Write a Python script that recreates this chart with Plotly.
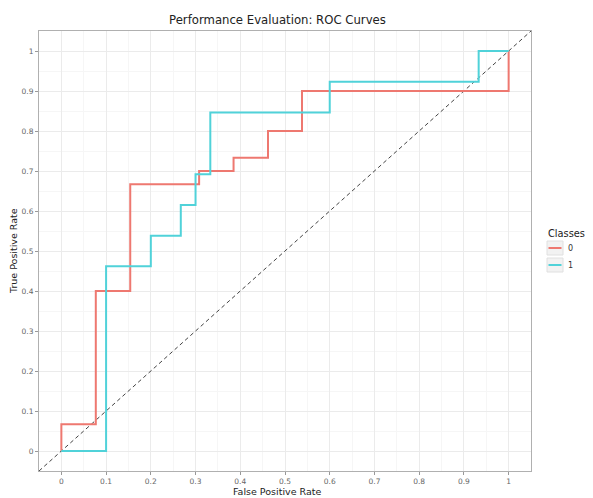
import plotly.graph_objects as go

# ---- data ----
classes = ["0", "1"]
fpr_class0 = [0, 0, 0.077, 0.077, 0.154, 0.154, 0.308, 0.308, 0.385, 0.385,
              0.462, 0.462, 0.538, 0.538, 1, 1]
tpr_class0 = [0, 0.067, 0.067, 0.4, 0.4, 0.667, 0.667, 0.7, 0.7, 0.733,
              0.733, 0.8, 0.8, 0.9, 0.9, 1]
fpr_class1 = [0, 0.1, 0.1, 0.2, 0.2, 0.267, 0.267, 0.3, 0.3, 0.333,
              0.333, 0.6, 0.6, 0.933, 0.933, 1]
tpr_class1 = [0, 0, 0.462, 0.462, 0.538, 0.538, 0.615, 0.615, 0.692, 0.692,
              0.846, 0.846, 0.923, 0.923, 1, 1]
tick_vals = [0, 0.1, 0.2, 0.3, 0.4, 0.5, 0.6, 0.7, 0.8, 0.9, 1]
tick_text = ["0", "0.1", "0.2", "0.3", "0.4", "0.5", "0.6", "0.7", "0.8", "0.9", "1"]
axis_range = [-0.05, 1.05]

colors = ["#EE7870", "#50D2D9"]
FONT = "DejaVu Sans"

L, R, T, B = 39, 531, 31, 471
W, H = 593, 498

fig = go.Figure()

# diagonal reference
fig.add_trace(go.Scatter(x=axis_range, y=axis_range, mode="lines",
                         line=dict(color="#444444", width=1, dash="4px,3px"),
                         showlegend=False, hoverinfo="skip"))

for fpr, tpr, name, col in [(fpr_class0, tpr_class0, classes[0], colors[0]),
                            (fpr_class1, tpr_class1, classes[1], colors[1])]:
    fig.add_trace(go.Scatter(x=fpr, y=tpr, mode="lines", name=name,
                             line=dict(color=col, width=2), showlegend=False))

axis_common = dict(
    range=axis_range, tickvals=tick_vals, ticktext=tick_text, automargin=False,
    showgrid=True, gridcolor="#ebebeb", gridwidth=1,
    minor=dict(dtick=0.05, tick0=0, showgrid=True, gridcolor="#f6f6f6", gridwidth=1),
    zeroline=False, showline=True, linecolor="#b0b0b0", linewidth=1, mirror=True,
    ticks="outside", ticklen=3, tickcolor="#999999", tickwidth=1,
    tickfont=dict(family=FONT, size=7.5, color="#666666"),
)

fig.update_layout(
    width=W, height=H,
    margin=dict(l=L, r=W - R, t=T, b=H - B),
    paper_bgcolor="white", plot_bgcolor="white",
    showlegend=False,
    xaxis=dict(**axis_common),
    yaxis=dict(**axis_common),
)

def px_x(px):
    return (px - L) / (R - L)

def px_y(py):
    return (B - py) / (B - T)

# title and axis titles as annotations (precise placement)
fig.add_annotation(x=px_x(277), y=px_y(20), xref="paper", yref="paper",
                   text="Performance Evaluation: ROC Curves", showarrow=False,
                   xanchor="center", yanchor="middle",
                   font=dict(family=FONT, size=11.7, color="#222222"))
fig.add_annotation(x=px_x(277), y=px_y(491), xref="paper", yref="paper",
                   text="False Positive Rate", showarrow=False,
                   xanchor="center", yanchor="middle",
                   font=dict(family=FONT, size=9.5, color="#222222"))
fig.add_annotation(x=px_x(13), y=px_y(251), xref="paper", yref="paper",
                   text="True Positive Rate", showarrow=False, textangle=-90,
                   xanchor="center", yanchor="middle",
                   font=dict(family=FONT, size=9.5, color="#222222"))

# ---- manual ggplot-style legend ----
fig.add_annotation(x=px_x(546), y=px_y(234), xref="paper", yref="paper",
                   text="Classes", showarrow=False, xanchor="left", yanchor="middle",
                   font=dict(family=FONT, size=9.8, color="#222222"))
for i, (name, col) in enumerate(zip(classes, colors)):
    cy = 248 + i * 17
    fig.add_shape(type="rect", xref="paper", yref="paper",
                  x0=px_x(547), x1=px_x(563), y0=px_y(cy - 7), y1=px_y(cy + 7),
                  fillcolor="#f2f2f2", line=dict(color="#e0e0e0", width=1))
    fig.add_shape(type="line", xref="paper", yref="paper",
                  x0=px_x(548.5), x1=px_x(561.5), y0=px_y(cy), y1=px_y(cy),
                  line=dict(color=col, width=2))
    fig.add_annotation(x=px_x(566), y=px_y(cy), xref="paper", yref="paper",
                       text=name, showarrow=False, xanchor="left", yanchor="middle",
                       font=dict(family=FONT, size=8, color="#333333"))

fig.write_html("out.html", config={"displayModeBar": False},
               post_script="document.body.style.margin='0';"
                           "document.body.style.overflow='hidden';")
